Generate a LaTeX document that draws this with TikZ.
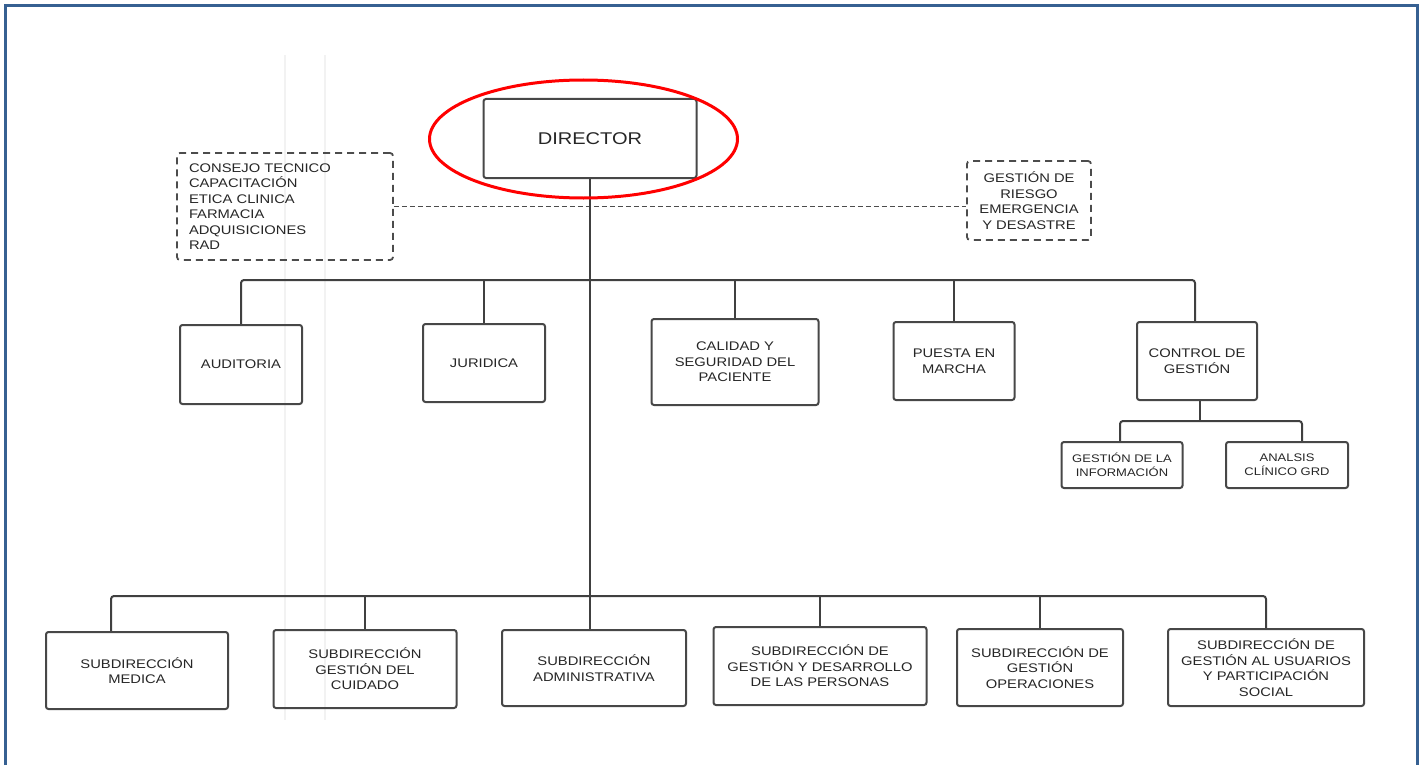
\documentclass[tikz,border=0pt]{standalone}
\usepackage{fontspec}
\setmainfont[FakeStretch=1.18]{Liberation Sans}
\usetikzlibrary{calc}

\definecolor{marco}{RGB}{54,96,146}
\tikzset{
  unidad/.style={draw=black!72, line width=2pt, rounded corners=2.5pt, align=center, text=black!85, font=\fontsize{12.5}{15.5}\selectfont, inner sep=2pt},
  asesor/.style={draw=black!70, line width=1.8pt, dash pattern=on 7pt off 5pt, rounded corners=3pt, text=black!85, font=\fontsize{12.5}{15.5}\selectfont},
  linea/.style={draw=black!75, line width=2pt, rounded corners=3pt},
}

\begin{document}
\begin{tikzpicture}[x=1pt,y=-1pt]
	\useasboundingbox (0,0) rectangle (1420,765);
	\draw[black!5, line width=1.2pt] (285,55) -- (285,720);
	\draw[black!5, line width=1.2pt] (325,55) -- (325,720);
	\draw[marco, line width=3pt] (5.5,765) -- (5.5,5.5) -- (1417.5,5.5) -- (1417.5,765);

	\node[unidad, minimum width=213pt, minimum height=79pt, font=\fontsize{17}{20}\selectfont] (director) at (590,138.5) {DIRECTOR};

	\node[asesor, align=left, text width=192pt, inner xsep=12pt, minimum height=107pt] (consejo) at (285,206.5) {CONSEJO TECNICO\\CAPACITACIÓN\\ETICA CLINICA\\FARMACIA\\ADQUISICIONES\\RAD};
	\node[asesor, align=center, minimum width=124pt, minimum height=79pt, inner sep=2pt] (riesgo) at (1029,200.5) {GESTIÓN DE\\RIESGO\\EMERGENCIA\\Y DESASTRE};
	\draw[black!70, line width=1.6pt, dash pattern=on 5pt off 3pt] (consejo.east) -- (consejo.east -| riesgo.west);

	\node[unidad, minimum width=122pt, minimum height=79pt] (auditoria) at (241,364.5) {AUDITORIA};
	\node[unidad, minimum width=122pt, minimum height=78pt] (juridica) at (484,363) {JURIDICA};
	\node[unidad, minimum width=167pt, minimum height=86pt] (calidad) at (735,362) {CALIDAD Y\\SEGURIDAD DEL\\PACIENTE};
	\node[unidad, minimum width=121pt, minimum height=78pt] (puesta) at (954,361) {PUESTA EN\\MARCHA};
	\node[unidad, minimum width=120pt, minimum height=78pt] (control) at (1197,361) {CONTROL DE\\GESTIÓN};

	\node[unidad, minimum width=121pt, minimum height=46pt, font=\fontsize{11}{14}\selectfont] (info) at (1122,465) {GESTIÓN DE LA\\INFORMACIÓN};
	\node[unidad, minimum width=122pt, minimum height=46pt, font=\fontsize{11}{14}\selectfont] (analsis) at (1287,465) {ANALSIS\\CLÍNICO GRD};

	\node[unidad, minimum width=182pt, minimum height=77pt] (medica) at (137,670.5) {SUBDIRECCIÓN\\MEDICA};
	\node[unidad, minimum width=183pt, minimum height=78pt] (cuidado) at (365,669) {SUBDIRECCIÓN\\GESTIÓN DEL\\CUIDADO};
	\node[unidad, minimum width=184pt, minimum height=76pt] (admin) at (594,668) {SUBDIRECCIÓN\\ADMINISTRATIVA};
	\node[unidad, minimum width=213pt, minimum height=78pt] (personas) at (820,666) {SUBDIRECCIÓN DE\\GESTIÓN Y DESARROLLO\\DE LAS PERSONAS};
	\node[unidad, minimum width=166pt, minimum height=77pt] (operaciones) at (1040,667.5) {SUBDIRECCIÓN DE\\GESTIÓN\\OPERACIONES};
	\node[unidad, minimum width=196pt, minimum height=77pt] (usuarios) at (1266,667.5) {SUBDIRECCIÓN DE\\GESTIÓN AL USUARIOS\\Y PARTICIPACIÓN\\SOCIAL};

	\coordinate (busA) at (590,280);
	\coordinate (busB) at (590,596);
	\coordinate (busC) at (1200,421);

	\draw[linea] (director.south) -- (director.south |- admin.north);

	\draw[linea] (auditoria.north) |- ([xshift=-2pt]control.north |- busA) -- ([xshift=-2pt]control.north);
	\draw[linea] (juridica.north) -- (juridica.north |- busA);
	\draw[linea] (calidad.north) -- (calidad.north |- busA);
	\draw[linea] (puesta.north) -- (puesta.north |- busA);

	\draw[linea] ([xshift=3pt]control.south) -- ([xshift=3pt]control.south |- busC);
	\draw[linea] ([xshift=-2pt]info.north) |- ([xshift=15pt]analsis.north |- busC) -- ([xshift=15pt]analsis.north);

	\draw[linea] ([xshift=-26pt]medica.north) |- (usuarios.north |- busB) -- (usuarios.north);
	\draw[linea] (cuidado.north) -- (cuidado.north |- busB);
	\draw[linea] (personas.north) -- (personas.north |- busB);
	\draw[linea] (operaciones.north) -- (operaciones.north |- busB);

	\draw[red, line width=3pt] (583.5,139) ellipse [x radius=154pt, y radius=59pt];
\end{tikzpicture}
\end{document}
